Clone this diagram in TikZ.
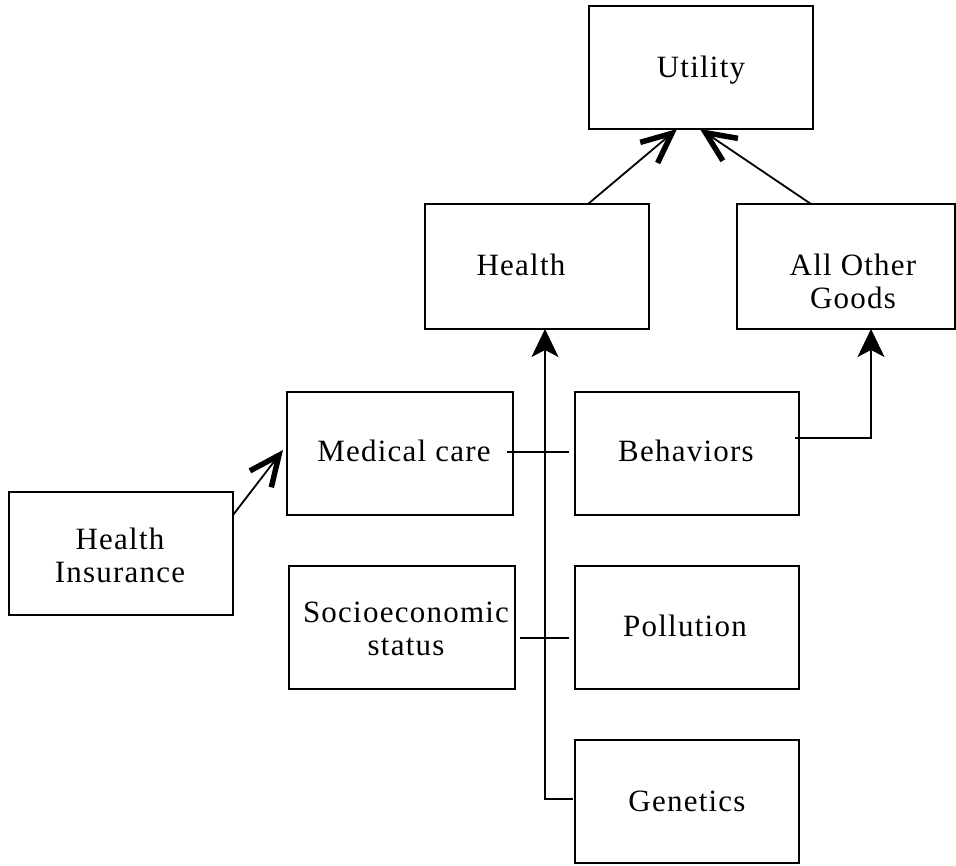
\documentclass[tikz,border=0pt]{standalone}
\usepackage{fontspec}
\setmainfont{Liberation Serif}[LetterSpace=4]
\usetikzlibrary{arrows.meta}
\begin{document}
\begin{tikzpicture}[x=1pt,y=-1pt,
  box/.style={draw,line width=1.8pt,inner sep=0pt,outer sep=0pt},
  lbl/.style={inner sep=0pt,align=center,font=\fontsize{31}{33}\selectfont},
  conn/.style={line width=1.8pt},
  barb/.style={conn,-{Straight Barb[length=30pt,width=27pt,line width=5.5pt,sharp]}},
  fillarrow/.style={conn,-{Stealth[length=28pt,width=27pt,inset=7pt]}}]
\useasboundingbox (0,0) rectangle (956,865);
% boxes
\node[box,minimum width=224pt,minimum height=123pt] (util) at (701,67.5) {};
\node[box,minimum width=224pt,minimum height=125pt] (health) at (537,266.5) {};
\node[box,minimum width=218pt,minimum height=125pt] (aog) at (846,266.5) {};
\node[box,minimum width=226pt,minimum height=123pt] (mc) at (400,453.5) {};
\node[box,minimum width=224pt,minimum height=123pt] (beh) at (687,453.5) {};
\node[box,minimum width=224pt,minimum height=123pt] (hi) at (121,553.5) {};
\node[box,minimum width=226pt,minimum height=123pt] (ses) at (402,627.5) {};
\node[box,minimum width=224pt,minimum height=123pt] (pol) at (687,627.5) {};
\node[box,minimum width=224pt,minimum height=123pt] (gen) at (687,801.5) {};
% labels
\node[lbl,anchor=base] (utilT) at (701,77) {Utility};
\node[lbl,anchor=base] (healthT) at (521,275) {Health};
\node[lbl,anchor=center] (aogT) at (853,281) {All Other\\Goods};
\node[lbl,anchor=base] (mcT) at (404,461) {Medical care};
\node[lbl,anchor=base] (behT) at (686,461) {Behaviors};
\node[lbl,anchor=center] (hiT) at (120,555) {Health\\Insurance};
\node[lbl,anchor=center] (sesT) at (406,629) {Socioeconomic\\status};
\node[lbl,anchor=base] (polT) at (685,636) {Pollution};
\node[lbl,anchor=base] (genT) at (687,811) {Genetics};
% connectors
\draw[barb] ([xshift=51pt]health.north) -- ([xshift=-24pt]util.south);
\draw[barb] ([xshift=-35pt]aog.north) -- ([xshift=-1pt]util.south);
\draw[barb] ([yshift=38.5pt]hi.east) -- ([xshift=-4pt,yshift=3.5pt]mc.west);
\draw[fillarrow] ([xshift=-2pt,yshift=2.5pt]gen.west) -| ([xshift=8pt]health.south);
\draw[fillarrow] ([xshift=-4pt,yshift=15.5pt]beh.east) -| ([xshift=25pt]aog.south);
\draw[conn] ([xshift=-6pt,yshift=1.5pt]mc.east) -- ([xshift=-6pt,yshift=1.5pt]beh.west);
\draw[conn] ([xshift=5pt,yshift=-10.5pt]ses.east) -- ([xshift=-6pt,yshift=-10.5pt]pol.west);
\end{tikzpicture}
\end{document}
